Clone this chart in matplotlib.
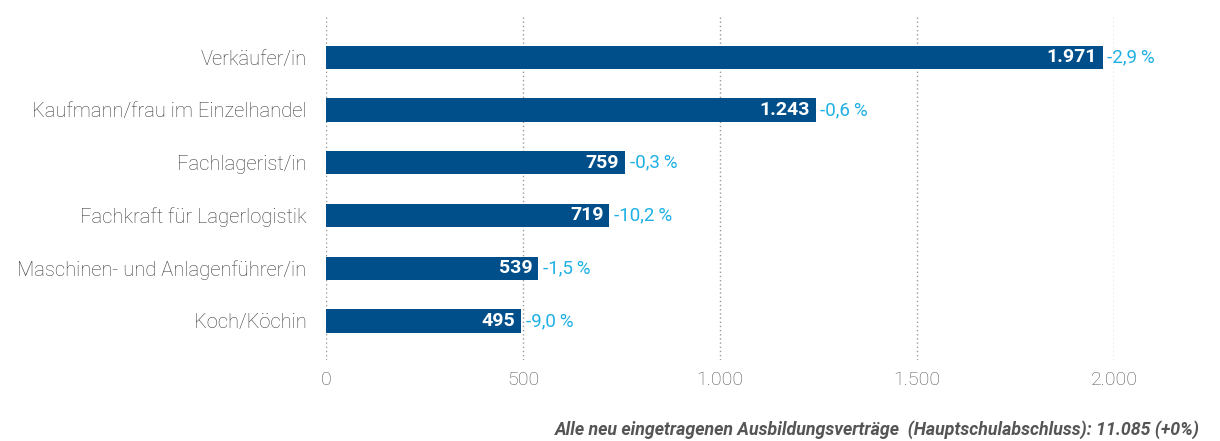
import matplotlib
matplotlib.use("Agg")
from matplotlib import pyplot as plt
import numpy as np

berufe = ["Verkäufer/in", "Kaufmann/frau im Einzelhandel", "Fachlagerist/in",
          "Fachkraft für Lagerlogistik", "Maschinen- und Anlagenführer/in", "Koch/Köchin"]
werte = [1971, 1243, 759, 719, 539, 495]
aenderung = ["-2,9\u2009%", "-0,6\u2009%", "-0,3\u2009%", "-10,2\u2009%", "-1,5\u2009%", "-9,0\u2009%"]
ticks = [0, 500, 1000, 1500, 2000]
tick_labels = ["0", "500", "1.000", "1.500", "2.000"]

plt.rcParams['font.family'] = ['Roboto', 'DejaVu Sans']

fig = plt.figure(figsize=(12.2, 4.41), dpi=100)
ax = fig.add_axes([326/1220, 1-360/441, (1114-326)/1220, 345/441])

y = np.arange(len(berufe))
ax.barh(y, werte, height=0.44, color="#004f8a", zorder=2)

for i, (w, a) in enumerate(zip(werte, aenderung)):
    ax.text(w - 15, i, f"{w:,}".replace(",", "."), ha="right", va="center",
            color="white", fontsize=14, fontweight="bold", zorder=3)
    ax.text(w + 12, i, a, ha="left", va="center", color="#1eb0e4",
            fontsize=13.5, zorder=3)

ax.set_xlim(0, 2000)
ax.set_ylim(5.74, -0.8)
ax.set_yticks(y)
ax.set_yticklabels(berufe, fontsize=14.5, color="#3c3c3c", fontweight="light")
ax.set_xticks(ticks)
ax.set_xticklabels(tick_labels, fontsize=14, color="#555555", fontweight="light")
ax.tick_params(axis="both", length=0)
ax.tick_params(axis="y", pad=14)
ax.tick_params(axis="x", pad=8)
ax.grid(axis="x", linestyle=(0, (1, 2)), color="#999999", linewidth=1, zorder=1)
for s in ax.spines.values():
    s.set_visible(False)

fig.text(1200/1220, 1-430/441, "Alle neu eingetragenen Ausbildungsverträge  (Hauptschulabschluss): 11.085 (+0%)",
         ha="right", va="center", fontsize=12.8, style="italic", fontweight="bold", color="#555555")

fig.savefig("out.png", dpi=100)
